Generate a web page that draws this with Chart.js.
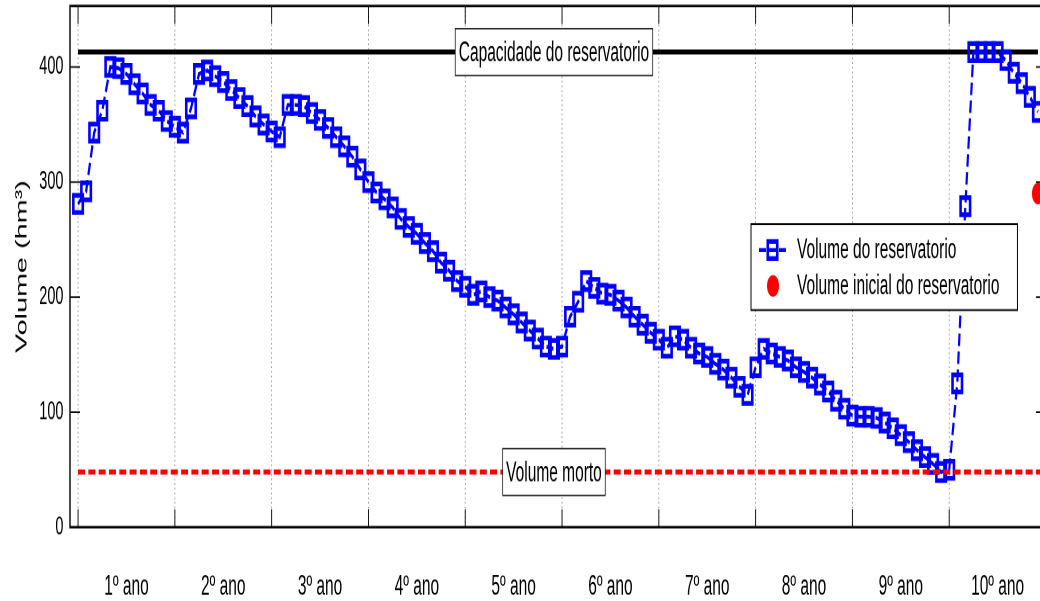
<!DOCTYPE html>
<html lang="pt">
<head>
<meta charset="utf-8">
<title>Volume do reservatorio</title>
<script src="https://cdn.jsdelivr.net/npm/chart.js@4.4.1/dist/chart.umd.min.js"></script>
<style>
  html, body { margin: 0; padding: 0; width: 1040px; height: 601px; overflow: hidden; background: #fff; }
  /* the figure is drawn in a short canvas and stretched vertically to the page height */
  #quadro { position: absolute; left: 0; top: 0; width: 1050px; height: 334px;
            transform-origin: 0 0; transform: scaleY(1.79940); }
  canvas { display: block; }
</style>
</head>
<body>
<div id="quadro"><canvas id="grafico" width="1050" height="334"></canvas></div>
<script>
// Volume mensal do reservatorio (hm³), um vetor por ano de operacao
const ano1  = [281, 292, 343, 362, 400, 399, 394, 385, 377, 367, 362, 353];
const ano2  = [348, 343, 364, 394, 397, 392, 387, 380, 373, 366, 357, 350];
const ano3  = [344, 339, 367, 367, 366, 360, 354, 347, 339, 331, 322, 311];
const ano4  = [300, 291, 285, 278, 268, 261, 255, 247, 240, 230, 223, 214];
const ano5  = [209, 202, 205, 200, 197, 191, 185, 178, 171, 164, 157, 155];
const ano6  = [157, 183, 196, 214, 208, 203, 202, 197, 191, 183, 176, 169];
const ano7  = [163, 156, 166, 163, 156, 151, 148, 142, 137, 130, 122, 115];
const ano8  = [139, 155, 151, 148, 145, 139, 135, 130, 124, 118, 110, 103];
const ano9  = [ 97,  96,  96,  95,  91,  86,  80,  74,  67,  61,  55,  48];
const ano10 = [ 50, 125, 279, 413, 413, 413, 413, 406, 395, 386, 374, 361];

// Rotulos dos anos e posicoes (em meses) das divisoes e dos rotulos
const anos      = ['1º ano', '2º ano', '3º ano', '4º ano', '5º ano', '6º ano', '7º ano', '8º ano', '9º ano', '10º ano'];
const inicioAno = [0, 12, 24, 36, 48, 60, 72, 84, 96, 108];
const centroAno = [6, 18, 30, 42, 54, 66, 78, 90, 102, 114];
const yTicks    = [0, 100, 200, 300, 400];

// Valores de referencia (hm³)
const capacidade     = 413;
const volumeMorto    = 48;
const volumeInicial  = 290;
const mesInicial     = 119;

// Limites dos eixos
const xMin = -1, xMax = 120;
const yMin = 0,  yMax = 453;
const mesRotulos = 59;   // posicao horizontal das caixas de texto

const volume = [].concat(ano1, ano2, ano3, ano4, ano5, ano6, ano7, ano8, ano9, ano10);
const ultimoMes = volume.length - 1;

const FONTE = '"Liberation Sans", Arial, Helvetica, sans-serif';
Chart.defaults.font.family = FONTE;
Chart.defaults.color = '#000';

function caixaTexto(ctx, texto, cx, cy) {
  ctx.font = '15.5px ' + FONTE;
  const w = ctx.measureText(texto).width + 7;
  const h = 26;
  ctx.fillStyle = '#fff';
  ctx.fillRect(cx - w / 2, cy - h / 2, w, h);
  ctx.strokeStyle = '#222';
  ctx.lineWidth = 0.8;
  ctx.setLineDash([]);
  ctx.strokeRect(cx - w / 2, cy - h / 2, w, h);
  ctx.fillStyle = '#000';
  ctx.textAlign = 'center';
  ctx.textBaseline = 'middle';
  ctx.fillText(texto, cx, cy + 0.8);
}

function linha(ctx, x1, y1, x2, y2) {
  ctx.beginPath();
  ctx.moveTo(x1, y1);
  ctx.lineTo(x2, y2);
  ctx.stroke();
}

const moldura = {
  id: 'moldura',
  beforeDatasetsDraw(chart) {
    const {ctx, chartArea: a, scales: {x}} = chart;
    ctx.save();
    ctx.strokeStyle = '#8c8c8c';
    ctx.lineWidth = 0.8;
    ctx.setLineDash([1, 1.6]);
    inicioAno.forEach(m => {
      const px = x.getPixelForValue(m);
      linha(ctx, px, a.top, px, a.bottom);
    });
    ctx.restore();
  },
  afterDatasetsDraw(chart) {
    const {ctx, chartArea: a, scales: {x, y}} = chart;
    ctx.save();

    // caixas de texto sobre as linhas de referencia
    caixaTexto(ctx, 'Capacidade do reservatorio', x.getPixelForValue(mesRotulos), y.getPixelForValue(capacidade));
    caixaTexto(ctx, 'Volume morto', x.getPixelForValue(mesRotulos), y.getPixelForValue(volumeMorto));

    // contorno dos eixos e marcas internas
    ctx.strokeStyle = '#000';
    ctx.setLineDash([]);
    ctx.lineWidth = 1.4;
    ctx.strokeRect(a.left, a.top, a.right - a.left, a.bottom - a.top);
    ctx.lineWidth = 0.9;
    yTicks.forEach(v => {
      const py = y.getPixelForValue(v);
      linha(ctx, a.left, py, a.left + 10, py);
      linha(ctx, a.right, py, a.right - 10, py);
    });
    inicioAno.forEach(m => {
      const px = x.getPixelForValue(m);
      linha(ctx, px, a.bottom, px, a.bottom - 10);
      linha(ctx, px, a.top, px, a.top + 10);
    });

    // legenda
    const serie = chart.data.datasets[2];
    const ponto = chart.data.datasets[1];
    ctx.font = '15.5px ' + FONTE;
    const larguraTexto = Math.max(ctx.measureText(serie.label).width, ctx.measureText(ponto.label).width);
    const lx = a.left + 681, ly = a.top + 121.2;
    const lw = 46 + larguraTexto + 18, lh = 47.8;
    ctx.fillStyle = '#fff';
    ctx.fillRect(lx, ly, lw, lh);
    ctx.strokeStyle = '#000';
    ctx.lineWidth = 1;
    ctx.strokeRect(lx, ly, lw, lh);

    const y1 = ly + 14.4, y2 = ly + 34.4;
    const cx = lx + 21.5;
    ctx.strokeStyle = serie.borderColor;
    ctx.lineWidth = serie.borderWidth;
    ctx.setLineDash(serie.borderDash);
    linha(ctx, lx + 8, y1, lx + 35, y1);
    ctx.setLineDash([]);
    ctx.lineWidth = serie.pointBorderWidth;
    const lado = serie.pointRadius * Math.SQRT2;
    ctx.strokeRect(cx - lado / 2, y1 - lado / 2, lado, lado);

    ctx.fillStyle = ponto.backgroundColor;
    ctx.beginPath();
    ctx.arc(cx + 0.5, y2, ponto.pointRadius, 0, Math.PI * 2);
    ctx.fill();

    ctx.fillStyle = '#000';
    ctx.textAlign = 'left';
    ctx.textBaseline = 'middle';
    ctx.fillText(serie.label, lx + 46, y1 + 0.5);
    ctx.fillText(ponto.label, lx + 46, y2 + 0.5);
    ctx.restore();
  }
};

new Chart(document.getElementById('grafico'), {
  type: 'line',
  data: {
    datasets: [
      {
        label: 'Volume morto',
        data: [{x: 0, y: volumeMorto}, {x: xMax, y: volumeMorto}],
        borderColor: '#ff0000',
        borderWidth: 2.8,
        borderDash: [7, 3.3],
        pointRadius: 0,
        order: 0
      },
      {
        label: 'Volume inicial do reservatorio',
        data: [{x: mesInicial, y: volumeInicial}],
        showLine: false,
        pointStyle: 'circle',
        pointRadius: 6,
        backgroundColor: '#ff0000',
        pointBackgroundColor: '#ff0000',
        pointBorderWidth: 0,
        borderWidth: 0,
        order: 1
      },
      {
        label: 'Volume do reservatorio',
        data: volume.map((v, i) => ({x: i, y: v})),
        borderColor: '#0000ff',
        borderWidth: 2.2,
        borderDash: [7, 3],
        tension: 0,
        pointStyle: 'rect',
        pointRadius: 6.7,
        pointBorderWidth: 2.6,
        pointBorderColor: '#0000ff',
        pointBackgroundColor: 'rgba(0,0,0,0)',
        order: 2
      },
      {
        label: 'Capacidade do reservatorio',
        data: [{x: 0, y: capacidade}, {x: ultimoMes, y: capacidade}],
        borderColor: '#000',
        borderWidth: 2.8,
        pointRadius: 0,
        order: 3
      }
    ]
  },
  options: {
    responsive: false,
    animation: false,
    devicePixelRatio: 2,
    events: [],
    layout: { autoPadding: false, padding: { top: 3.33, right: 4, left: 0, bottom: 0 } },
    plugins: { legend: { display: false }, tooltip: { enabled: false } },
    scales: {
      x: {
        type: 'linear',
        min: xMin,
        max: xMax,
        grid: { display: false, drawTicks: false },
        border: { display: false },
        afterBuildTicks: s => { s.ticks = centroAno.map(v => ({value: v})); },
        afterFit: s => { s.height = 41; s.paddingLeft = 0; s.paddingRight = 0; },
        ticks: {
          autoSkip: false,
          maxRotation: 0,
          padding: 23.9,
          color: '#000',
          font: { size: 15.5 },
          callback: v => anos[centroAno.indexOf(v)]
        }
      },
      y: {
        type: 'linear',
        min: yMin,
        max: yMax,
        grid: { display: false, drawTicks: false },
        border: { display: false },
        afterBuildTicks: s => { s.ticks = yTicks.map(v => ({value: v})); },
        afterFit: s => { s.width = 70; s.paddingTop = 0; s.paddingBottom = 0; },
        ticks: { padding: 6.5, color: '#000', font: { size: 14.5 } },
        title: {
          display: true,
          text: 'Volume (hm³)',
          color: '#000',
          font: { size: 16 },
          padding: { top: 12.4, bottom: 0 }
        }
      }
    }
  },
  plugins: [moldura]
});
</script>
</body>
</html>
